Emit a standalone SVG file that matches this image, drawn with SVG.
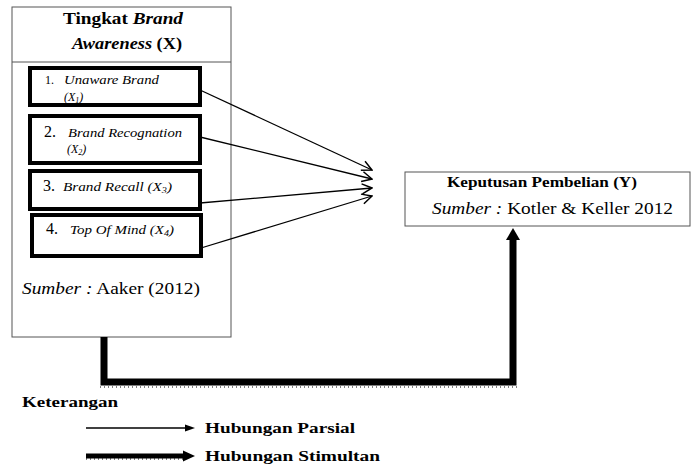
<svg xmlns="http://www.w3.org/2000/svg" width="691" height="466" viewBox="0 0 691 466">
<defs>
<marker id="open" viewBox="0 0 12 12" refX="11" refY="6" markerWidth="12" markerHeight="12" markerUnits="userSpaceOnUse" orient="auto">
<path d="M1,1 L11,6 L1,11" fill="none" stroke="#000" stroke-width="1.5"/>
</marker>
</defs>
<rect width="691" height="466" fill="#fff"/>

<g id="nodeX">
<rect x="12" y="7" width="219" height="330" fill="#fff" stroke="#555" stroke-width="1"/>
<line x1="12" y1="62" x2="231" y2="62" stroke="#555" stroke-width="1"/>
<text style="font-family:'Liberation Serif',serif" font-weight="bold" x="63" y="24" font-size="16" textLength="120" lengthAdjust="spacingAndGlyphs">Tingkat <tspan font-style="italic">Brand</tspan></text>
<text style="font-family:'Liberation Serif',serif" font-weight="bold" x="72" y="49" font-size="16" textLength="110" lengthAdjust="spacingAndGlyphs"><tspan font-style="italic">Awareness</tspan> (X)</text>
<text style="font-family:'Liberation Serif',serif" font-style="italic" x="22" y="294" font-size="17" textLength="178" lengthAdjust="spacingAndGlyphs">Sumber :<tspan font-style="normal"> Aaker (2012)</tspan></text>
</g>

<g id="nodeX1">
<rect x="30" y="68" width="170" height="37" fill="#fff" stroke="#000" stroke-width="4"/>
<text style="font-family:'Liberation Serif',serif" x="45" y="84" font-size="12">1.</text>
<text style="font-family:'Liberation Serif',serif" font-style="italic" x="64" y="84" font-size="12" textLength="95" lengthAdjust="spacingAndGlyphs">Unaware Brand</text>
<text style="font-family:'Liberation Serif',serif" font-style="italic" x="64" y="101" font-size="12">(X<tspan font-size="8" dy="2">1</tspan><tspan dy="-2">)</tspan></text>
</g>

<g id="nodeX2">
<rect x="30" y="116" width="170" height="47" fill="#fff" stroke="#000" stroke-width="4"/>
<text style="font-family:'Liberation Serif',serif" x="44" y="137" font-size="16">2.</text>
<text style="font-family:'Liberation Serif',serif" font-style="italic" x="68" y="137" font-size="12" textLength="114" lengthAdjust="spacingAndGlyphs">Brand Recognation</text>
<text style="font-family:'Liberation Serif',serif" font-style="italic" x="67" y="153" font-size="12">(X<tspan font-size="8" dy="2">2</tspan><tspan dy="-2">)</tspan></text>
</g>

<g id="nodeX3">
<rect x="30" y="171" width="170" height="38" fill="#fff" stroke="#000" stroke-width="4"/>
<text style="font-family:'Liberation Serif',serif" x="43" y="191" font-size="16">3.</text>
<text style="font-family:'Liberation Serif',serif" font-style="italic" x="63" y="191" font-size="12" textLength="109" lengthAdjust="spacingAndGlyphs">Brand Recall (X<tspan font-size="8" dy="2">3</tspan><tspan dy="-2">)</tspan></text>
</g>

<g id="nodeX4">
<rect x="32" y="215" width="169" height="41" fill="#fff" stroke="#000" stroke-width="4"/>
<text style="font-family:'Liberation Serif',serif" x="46" y="234" font-size="16">4.</text>
<text style="font-family:'Liberation Serif',serif" font-style="italic" x="70" y="234" font-size="12" textLength="104" lengthAdjust="spacingAndGlyphs">Top Of Mind (X<tspan font-size="8" dy="2">4</tspan><tspan dy="-2">)</tspan></text>
</g>

<g id="nodeY">
<rect x="405" y="172" width="285" height="54" fill="#fff" stroke="#555" stroke-width="1"/>
<text style="font-family:'Liberation Serif',serif" font-weight="bold" x="447" y="187" font-size="15" textLength="190" lengthAdjust="spacingAndGlyphs">Keputusan Pembelian (Y)</text>
<text style="font-family:'Liberation Serif',serif" font-style="italic" x="432" y="214" font-size="17" textLength="241" lengthAdjust="spacingAndGlyphs">Sumber :<tspan font-style="normal"> Kotler &amp; Keller 2012</tspan></text>
</g>

<g id="connectors" fill="none" stroke="#000">
<g stroke-width="1.3" marker-end="url(#open)">
<line x1="200" y1="90" x2="372" y2="170"/>
<line x1="200" y1="137" x2="372" y2="179"/>
<line x1="200" y1="203" x2="372" y2="188"/>
<line x1="201" y1="248" x2="372" y2="196"/>
</g>
<polyline stroke-width="7" points="104,337 104,382 513,382 513,240"/>
<polygon points="513,228 506,240 520,240" fill="#000" stroke="none"/>
<line stroke-width="1" stroke-dasharray="1 3" x1="100" y1="387" x2="517" y2="387"/>
</g>

<g id="legend">
<text style="font-family:'Liberation Serif',serif" font-weight="bold" x="22" y="407" font-size="14" textLength="96" lengthAdjust="spacingAndGlyphs">Keterangan</text>
<line x1="86" y1="428" x2="186" y2="428" stroke="#000" stroke-width="1.3"/>
<polygon points="195,428 185,424.5 185,431.5" fill="#000"/>
<text style="font-family:'Liberation Serif',serif" font-weight="bold" x="205" y="433" font-size="15" textLength="150" lengthAdjust="spacingAndGlyphs">Hubungan Parsial</text>
<line x1="86" y1="456" x2="184" y2="456" stroke="#000" stroke-width="5"/>
<line x1="86" y1="459" x2="184" y2="459" stroke="#000" stroke-width="1" stroke-dasharray="1 3"/>
<polygon points="195,456 183,450.5 183,461.5" fill="#000"/>
<text style="font-family:'Liberation Serif',serif" font-weight="bold" x="205" y="461" font-size="15" textLength="175" lengthAdjust="spacingAndGlyphs">Hubungan Stimultan</text>
</g>
</svg>
